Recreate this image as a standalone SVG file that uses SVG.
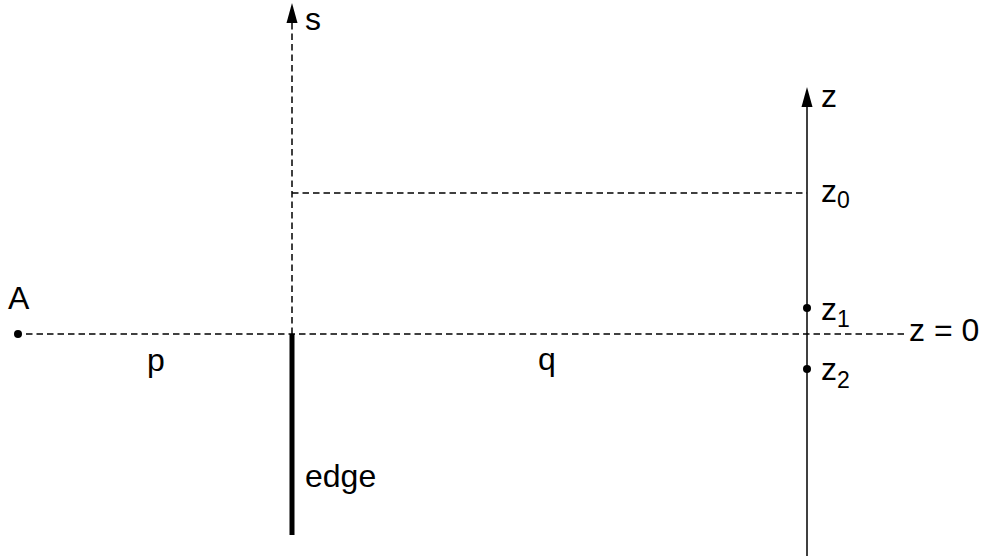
<svg xmlns="http://www.w3.org/2000/svg" width="986" height="558" viewBox="0 0 986 558">
<style>
.dash{stroke:#000;stroke-width:1.5;stroke-dasharray:6.5,4;fill:none}
.solid{stroke:#000;stroke-width:1.5;fill:none}
.edge{stroke:#000;stroke-width:5;fill:none}
text{font-family:"Liberation Sans",Arial,sans-serif;font-size:32px;fill:#000}
.sub{font-size:23px}
</style>
<rect width="986" height="558" fill="#fff"/>
<g id="connectors">
<line class="dash" x1="292" y1="334" x2="292" y2="22"/>
<polygon points="292,3 286.5,23 297.5,23" fill="#000"/>
<line class="dash" x1="292" y1="193" x2="807" y2="193"/>
<line class="dash" x1="26" y1="334" x2="905" y2="334"/>
<line class="solid" x1="807" y1="556" x2="807" y2="104"/>
<polygon points="807,87 801.5,107 812.5,107" fill="#000"/>
<line class="edge" x1="292" y1="334" x2="292" y2="535"/>
</g>
<g id="nodeA">
<circle cx="18" cy="334" r="4" fill="#000"/>
<text x="8" y="309">A</text>
</g>
<g id="labels">
<text x="305" y="30">s</text>
<text x="821" y="107">z</text>
<text x="821" y="202">z<tspan class="sub" dy="6">0</tspan></text>
<text x="147" y="371">p</text>
<text x="538" y="370">q</text>
<text x="305" y="487">edge</text>
<text x="909" y="341">z = 0</text>
</g>
<g id="nodeZ1">
<circle cx="807" cy="308" r="4" fill="#000"/>
<text x="821" y="320">z<tspan class="sub" dy="7">1</tspan></text>
</g>
<g id="nodeZ2">
<circle cx="807" cy="369" r="4" fill="#000"/>
<text x="821" y="380">z<tspan class="sub" dy="8">2</tspan></text>
</g>
</svg>
